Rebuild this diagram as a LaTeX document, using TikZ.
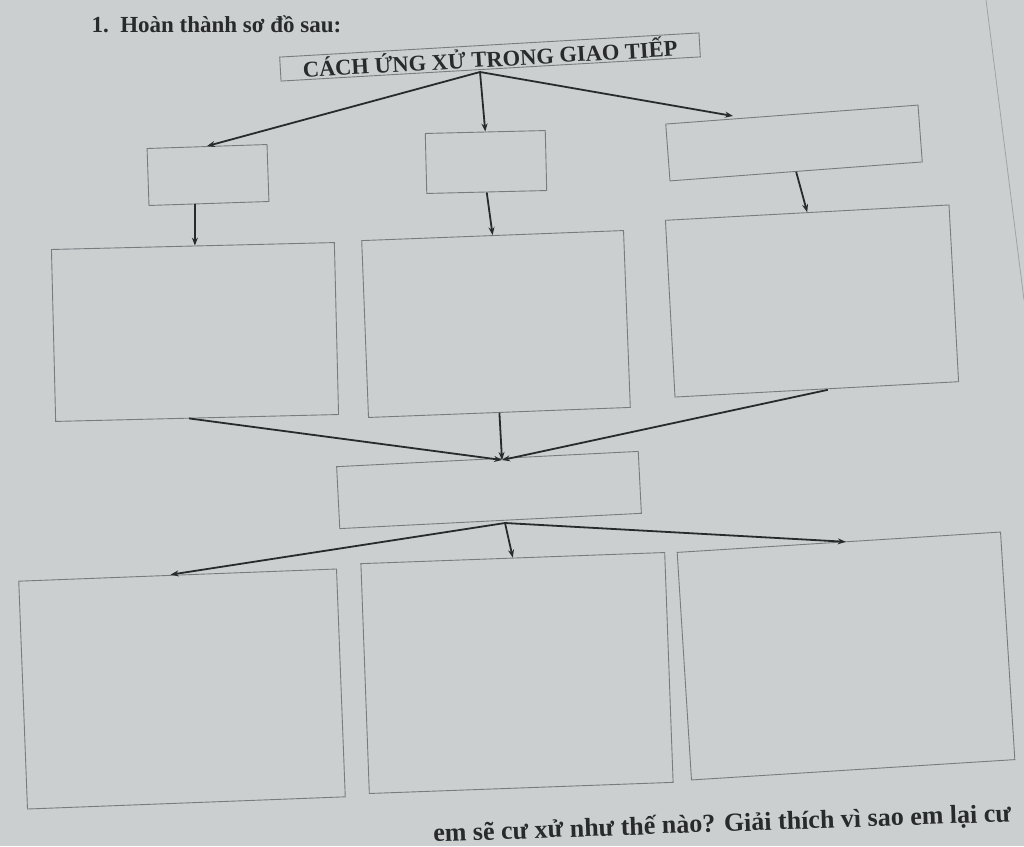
\documentclass[tikz,border=0pt]{standalone}
\usepackage{fontspec}
\setmainfont{Liberation Serif}
\usetikzlibrary{arrows.meta}
\definecolor{paper}{RGB}{203,207,208}
\definecolor{boxline}{RGB}{120,124,126}
\definecolor{ink}{RGB}{40,42,44}
\begin{document}
\begin{tikzpicture}[x=1pt,y=-1pt,
  box/.style={draw=boxline,line width=0.9pt,fill=paper,inner sep=0pt,anchor=center},
  conn/.style={draw=ink,line width=1.8pt,-{Stealth[length=8pt,width=6pt]}},
  every node/.style={text=ink}]
\fill[paper] (0,0) rectangle (1024,846);
\useasboundingbox (0,0) rectangle (1024,846);
% page edge at right
\draw[boxline!70,line width=0.8pt] (986,0) -- (1024,300);
% heading
\node[anchor=base west,font=\bfseries\fontsize{23}{26}\selectfont] (q1) at (88,32) {1.\ \ Hoàn thành sơ đồ sau:};
% header box
\node[box,minimum width=420,minimum height=24,inner ysep=1pt,rotate=3.3,font=\bfseries\fontsize{22.5}{24}\selectfont] (H) at (490,57) {CÁCH ỨNG XỬ TRONG GIAO TIẾP};
% second row small boxes
\node[box,minimum width=120,minimum height=57,rotate=1.9] (A1) at (208,175) {};
\node[box,minimum width=120,minimum height=60,rotate=1.4] (A2) at (486,162) {};
\node[box,minimum width=253,minimum height=57,rotate=4.3] (A3) at (794,143) {};
% third row big boxes
\node[box,minimum width=283,minimum height=172,rotate=1.4] (B1) at (195,332) {};
\node[box,minimum width=262,minimum height=177,rotate=2.2] (B2) at (496,324) {};
\node[box,minimum width=284,minimum height=177,rotate=3.1] (B3) at (812,301) {};
% middle box
\node[box,minimum width=302,minimum height=62,rotate=2.9] (C) at (489,490) {};
% bottom row
\node[box,minimum width=318,minimum height=228,rotate=2.2] (D1) at (182,689) {};
\node[box,minimum width=304,minimum height=230,rotate=2.1] (D2) at (517,673) {};
\node[box,minimum width=324,minimum height=228,rotate=3.6] (D3) at (846,656) {};
% hub points
\coordinate (hH) at (480,72);
\coordinate (hC) at (505,523);
\coordinate (inC) at (502,460);
\coordinate (a3in) at (733,116);
% connectors
\draw[conn] (hH) -- (A1.north);
\draw[conn] (hH) -- (A2.north);
\draw[conn] (hH) -- (a3in);
\draw[conn] ([xshift=-14pt]A1.south) -- ([xshift=2pt]B1.north);
\draw[conn] (A2.south) -- (B2.north);
\draw[conn] (A3.south) -- (B3.north);
\draw[conn] ([xshift=-8pt]B1.south) -- (inC);
\draw[conn] (B2.south) -- (inC);
\draw[conn] ([xshift=11pt]B3.south) -- (inC);
\draw[conn] (hC) -- ([xshift=-7pt]D1.north);
\draw[conn] (hC) -- (D2.north);
\draw[conn] (hC) -- ([xshift=7pt]D3.north);
% bottom question text (cut off by photo)
\node[anchor=base west,rotate=2,font=\bfseries\fontsize{26}{28}\selectfont] (q2) at (430,842) {em sẽ cư xử như thế nào? Giải thích vì sao em lại cư};
\end{tikzpicture}
\end{document}
